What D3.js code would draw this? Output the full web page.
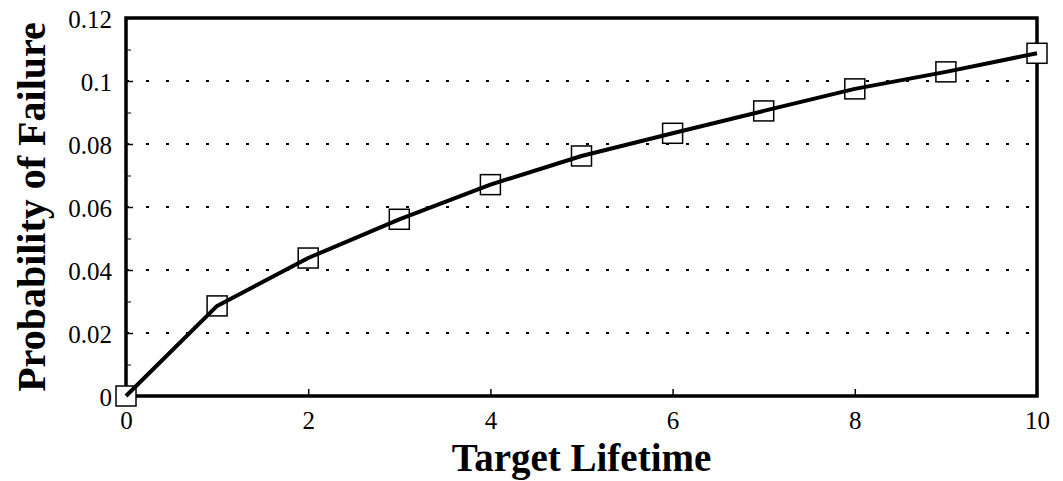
<!DOCTYPE html>
<html>
<head>
<meta charset="utf-8">
<script src="https://cdn.jsdelivr.net/npm/d3@7"></script>
<style>
  body { margin: 0; background: #fff; }
  svg { display: block; }
  text { font-family: "Liberation Serif", "Times New Roman", serif; fill: #000; }
</style>
</head>
<body>
<div id="chart"></div>
<script>
const lifetimes = [0, 1, 2, 3, 4, 5, 6, 7, 8, 9, 10];
const failureProb = [0, 0.0286, 0.0438, 0.0561, 0.0671, 0.0762, 0.0834, 0.0905, 0.0975, 0.1029, 0.1088];
const xTicks = [0, 2, 4, 6, 8, 10];
const yTicks = [0, 0.02, 0.04, 0.06, 0.08, 0.1, 0.12];
const yMinorTicks = [0.01, 0.03, 0.05, 0.07, 0.09, 0.11];
const xLabel = 'Target Lifetime';
const yLabel = 'Probability of Failure';

const fullWidth = 1063;
const fullHeight = 481;
const plot = { left: 126, right: 1037, top: 18, bottom: 396 };

const svg = d3.select('#chart')
  .append('svg')
  .attr('width', fullWidth)
  .attr('height', fullHeight);

const x = d3.scaleLinear().domain([0, 10]).range([plot.left, plot.right]);
const y = d3.scaleLinear().domain([0, 0.12]).range([plot.bottom, plot.top]);

// dotted grid at major y ticks
svg.append('g')
  .selectAll('line')
  .data(yTicks.filter(d => d > 0 && d < 0.12))
  .enter()
  .append('line')
  .attr('x1', plot.left)
  .attr('x2', plot.right)
  .attr('y1', d => y(d))
  .attr('y2', d => y(d))
  .attr('stroke', '#000')
  .attr('stroke-width', 2)
  .attr('stroke-dasharray', '3,17');

// axes: ticks inward, labels outside
const yAxis = d3.axisLeft(y)
  .tickValues(yTicks)
  .tickFormat(d => d === 0 ? '0' : d3.format('.2~f')(d))
  .tickSize(-7)
  .tickPadding(14);

const yAxisG = svg.append('g')
  .attr('transform', `translate(${plot.left},0)`)
  .call(yAxis);

svg.append('g')
  .attr('transform', `translate(${plot.left},0)`)
  .call(d3.axisLeft(y).tickValues(yMinorTicks).tickSize(-5).tickFormat(''))
  .call(g => g.select('.domain').remove());

const xAxis = d3.axisBottom(x)
  .tickValues(xTicks)
  .tickSize(-7)
  .tickPadding(15);

const xAxisG = svg.append('g')
  .attr('transform', `translate(0,${plot.bottom})`)
  .call(xAxis);

[yAxisG, xAxisG].forEach(g => {
  g.select('.domain').remove();
  g.selectAll('.tick line').attr('stroke', '#000').attr('stroke-width', 1.5);
  g.selectAll('text')
    .style('font-family', '"Liberation Serif", serif')
    .style('font-size', '25px')
    .attr('fill', '#000');
});
yAxisG.selectAll('text').attr('dy', '0.38em');
xAxisG.selectAll('text').attr('dy', '0.71em');

// frame
svg.append('rect')
  .attr('x', plot.left)
  .attr('y', plot.top)
  .attr('width', plot.right - plot.left)
  .attr('height', plot.bottom - plot.top)
  .attr('fill', 'none')
  .attr('stroke', '#000')
  .attr('stroke-width', 3.5);

// markers
const points = lifetimes.map((t, i) => ({ t: t, p: failureProb[i] }));
const box = 20;

svg.append('g')
  .selectAll('rect')
  .data(points)
  .enter()
  .append('rect')
  .attr('x', d => x(d.t) - box / 2)
  .attr('y', d => y(d.p) - box / 2)
  .attr('width', box)
  .attr('height', box)
  .attr('fill', '#fff')
  .attr('stroke', '#000')
  .attr('stroke-width', 1.5);

// line on top
const line = d3.line()
  .x(d => x(d.t))
  .y(d => y(d.p));

svg.append('path')
  .datum(points)
  .attr('d', line)
  .attr('fill', 'none')
  .attr('stroke', '#000')
  .attr('stroke-width', 4)
  .attr('stroke-linejoin', 'round');

// axis titles
svg.append('text')
  .attr('x', (plot.left + plot.right) / 2)
  .attr('y', 471)
  .attr('text-anchor', 'middle')
  .style('font-size', '39px')
  .style('font-weight', 'bold')
  .text(xLabel);

svg.append('text')
  .attr('transform', `translate(45,${(plot.top + plot.bottom) / 2}) rotate(-90)`)
  .attr('text-anchor', 'middle')
  .style('font-size', '40px')
  .style('font-weight', 'bold')
  .text(yLabel);
</script>
</body>
</html>
